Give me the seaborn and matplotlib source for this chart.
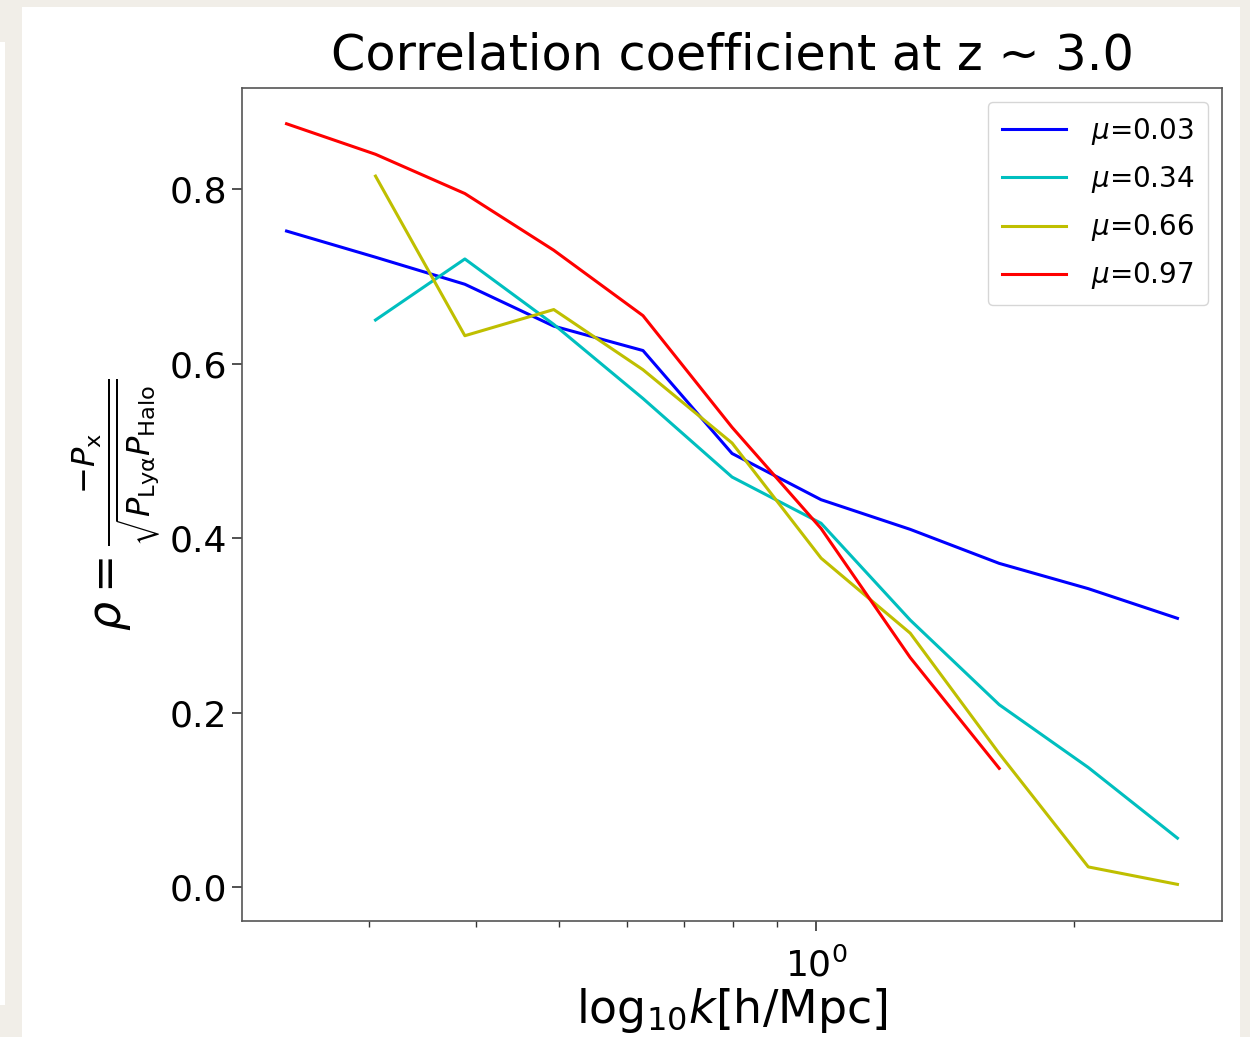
import numpy as np
import pandas as pd
import matplotlib
matplotlib.use("Agg")
import matplotlib.pyplot as plt
import seaborn as sns
from matplotlib.patches import Rectangle
from matplotlib.ticker import NullFormatter

# ---- data ----
k_values = [0.240, 0.305, 0.388, 0.493, 0.627, 0.797, 1.013, 1.288, 1.637, 2.081, 2.646]

rho_mu003 = [0.752, 0.722, 0.691, 0.643, 0.615, 0.497, 0.444, 0.410, 0.371, 0.342, 0.308]
rho_mu034 = [np.nan, 0.650, 0.720, 0.645, 0.560, 0.470, 0.417, 0.306, 0.209, 0.137, 0.056]
rho_mu066 = [np.nan, 0.815, 0.632, 0.662, 0.593, 0.509, 0.377, 0.291, 0.153, 0.023, 0.003]
rho_mu097 = [0.875, 0.840, 0.795, 0.730, 0.655, 0.527, 0.411, 0.263, 0.136, np.nan, np.nan]

series_labels = [r"$\mu$=0.03", r"$\mu$=0.34", r"$\mu$=0.66", r"$\mu$=0.97"]
series_colors = ["#0000ff", "#00bfbf", "#bfbf00", "#ff0000"]
series_values = [rho_mu003, rho_mu034, rho_mu066, rho_mu097]

y_ticks = [0.0, 0.2, 0.4, 0.6, 0.8]

title_text = "Correlation coefficient at z ~ 3.0"
xlabel_text = r"log$_{10}k$[h/Mpc]"
ylabel_text = r"$\rho = \frac{-P_{\rm x}}{\sqrt{P_{\rm Ly\alpha}P_{\rm Halo}}}$"

# ---- figure ----
fig = plt.figure(figsize=(12.5, 10.37), dpi=100, facecolor="#f1eee8")
fig.patches.append(Rectangle((22 / 1250, 0), (1240 - 22) / 1250, (1037 - 7) / 1037,
                             transform=fig.transFigure, facecolor="white",
                             edgecolor="none", zorder=-10))
fig.patches.append(Rectangle((0, 32 / 1037), 5 / 1250, (995 - 32) / 1037,
                             transform=fig.transFigure, facecolor="white",
                             edgecolor="none", zorder=-10))

ax = fig.add_axes([242 / 1250, 1 - 921 / 1037, (1222 - 242) / 1250, (921 - 88) / 1037])
ax.set_zorder(5)
ax.set_facecolor("white")

for lab, col, vals in zip(series_labels, series_colors, series_values):
    df = pd.DataFrame({"k": k_values, "rho": vals}).dropna()
    sns.lineplot(data=df, x="k", y="rho", ax=ax, color=col, label=lab,
                 linewidth=2.2, estimator=None, sort=False)

ax.set_xscale("log")
ax.xaxis.set_minor_formatter(NullFormatter())
ax.set_yticks(y_ticks)
ax.set_ylim(-0.039, 0.916)

ax.set_title(title_text, fontsize=35.5, pad=13)
ax.set_xlabel(xlabel_text, fontsize=33, labelpad=2)
ax.set_ylabel(ylabel_text, fontsize=33, labelpad=5)

ax.tick_params(axis="both", which="major", labelsize=26, length=7, width=1.2,
               color="#333333")
ax.tick_params(axis="x", which="major", pad=12)
ax.tick_params(axis="x", which="minor", length=4, width=1.0, color="#333333")
for s in ax.spines.values():
    s.set_color("#555555")
    s.set_linewidth(1.2)

leg = ax.legend(loc="upper right", fontsize=20, handlelength=2.3,
                borderpad=0.5, labelspacing=0.62, handletextpad=0.9,
                framealpha=0.8, edgecolor="#cccccc")

fig.savefig("out.png", dpi=100, facecolor=fig.get_facecolor())
